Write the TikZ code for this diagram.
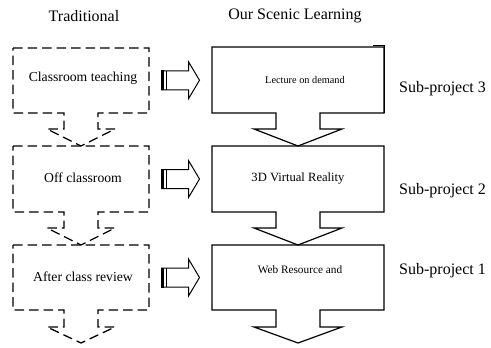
\documentclass[tikz,border=0pt]{standalone}
\usepackage{fontspec}
\setmainfont{Liberation Serif}
\usetikzlibrary{calc}
\newcommand\tailshape[9]{%
  % #1 x1, #2 y1, #3 x2, #4 y2, #5 stem half, #6 wing half, #7 wing y, #8 tip y, #9 style
  \draw[#9] (#1,#2) -- (#3,#2) -- (#3,#4) -- ({(#1+#3)/2+#5},#4) -- ({(#1+#3)/2+#5},#7)
    -- ({(#1+#3)/2+#6},#7) -- ({(#1+#3)/2},#8) -- ({(#1+#3)/2-#6},#7)
    -- ({(#1+#3)/2-#5},#7) -- ({(#1+#3)/2-#5},#4) -- (#1,#4) -- cycle;}
\newcommand\blockarr[2]{%
  % #1 from node, #2 to node
  \path ($(#1.east)!0.5!(#2.west)$) coordinate (bc);
  \draw[line width=1pt, line join=miter]
    ($(bc)+(-19,-9.5)$) -- ($(bc)+(8,-9.5)$) -- ($(bc)+(8,-18.5)$) -- ($(bc)+(19,0)$)
    -- ($(bc)+(8,18.5)$) -- ($(bc)+(8,9.5)$) -- ($(bc)+(-19,9.5)$) -- cycle;
  \fill ($(bc)+(-19.5,-10)$) rectangle ($(bc)+(-16.5,10)$);
  \draw[line width=1pt] ($(bc)+(-14,-9.5)$) -- ($(bc)+(-14,9.5)$);}
\begin{document}
\begin{tikzpicture}[x=1pt,y=-1pt,
  lbl/.style={inner sep=0pt, font=\fontsize{13.7}{16}\selectfont},
  rlbl/.style={inner sep=0pt},
  ttl/.style={inner sep=0pt, font=\fontsize{16}{19}\selectfont},
  sublbl/.style={inner sep=0pt, anchor=west, font=\fontsize{16}{19}\selectfont},
  boxarea/.style={draw=none, inner sep=0pt},
  dashbox/.style={line width=1.3pt, dash pattern=on 9.5pt off 5pt},
  solidbox/.style={line width=1.2pt, line join=miter},
]
\useasboundingbox (0,0) rectangle (491,348);

% titles
\node[ttl] (th1) at (84,16) {Traditional};
\node[ttl] (th2) at (295,16) {Our Scenic Learning};

% box areas (for connector anchors)
\node[boxarea, minimum width=136pt, minimum height=65pt] (L1) at (81,80.5) {};
\node[boxarea, minimum width=136pt, minimum height=66pt] (L2) at (81,179) {};
\node[boxarea, minimum width=136pt, minimum height=65pt] (L3) at (81,277.5) {};
\node[boxarea, minimum width=172pt, minimum height=66pt] (R1) at (298,80) {};
\node[boxarea, minimum width=172pt, minimum height=66pt] (R2) at (298,179) {};
\node[boxarea, minimum width=172pt, minimum height=65pt] (R3) at (298,277.5) {};

% left dashed shapes
\tailshape{13}{48}{149}{113}{17}{34}{129}{146}{dashbox}
\tailshape{13}{146}{149}{212}{17}{34}{228}{245}{dashbox}
\tailshape{13}{245}{149}{310}{17}{34}{327}{343}{dashbox}

% right solid shapes
\tailshape{212}{47}{384}{113}{22}{44}{129}{146}{solidbox}
\tailshape{212}{146}{384}{212}{22}{44}{228}{245}{solidbox}
\tailshape{212}{245}{384}{310}{22}{44}{327}{343}{solidbox}
% small raised notch at the top right corner of the first box
\draw[line width=1pt] (373,45.6) -- (384.6,45.6);
\draw[line width=1.8pt] (384.4,45.2) -- (384.4,113);

% texts
\node[lbl] (t1) at (83,78) {Classroom teaching};
\node[lbl] (t2) at (83,178) {Off classroom};
\node[lbl] (t3) at (83,277) {After class review};
\node[rlbl, font=\fontsize{10.3}{12}\selectfont] (u1) at (305,80) {Lecture on demand};
\node[rlbl, font=\fontsize{12.6}{15}\selectfont] (u2) at (298,178) {3D Virtual Reality};
\node[rlbl, font=\fontsize{11.3}{14}\selectfont] (u3) at (300,270) {Web Resource and};

\node[sublbl] (s3) at (399,89) {Sub-project 3};
\node[sublbl] (s2) at (399,191) {Sub-project 2};
\node[sublbl] (s1) at (399,271) {Sub-project 1};

% block arrows
\blockarr{L1}{R1}
\blockarr{L2}{R2}
\blockarr{L3}{R3}
\end{tikzpicture}
\end{document}
